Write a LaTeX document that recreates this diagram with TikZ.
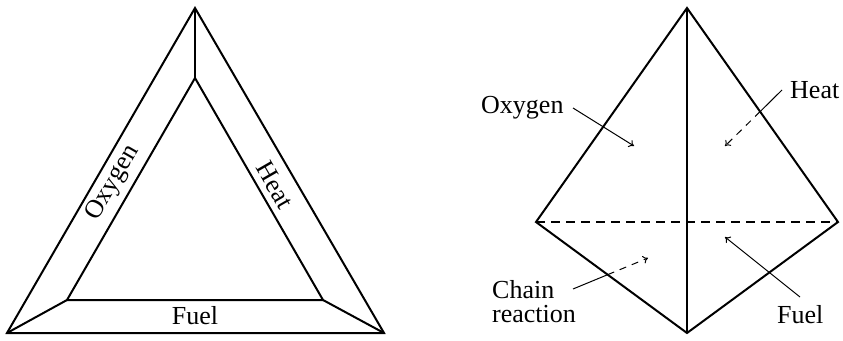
\documentclass[tikz,border=0pt]{standalone}
\usepackage{fontspec}
\setmainfont{Liberation Serif}
\usetikzlibrary{arrows.meta}
\begin{document}
\begin{tikzpicture}[x=1pt,y=-1pt,
  edge/.style={line width=2pt,line join=miter},
  hidden/.style={line width=2pt,dash pattern=on 9pt off 6pt},
  pointer/.style={line width=1pt,-{To[length=5pt,width=8pt]}},
  label/.style={font=\fontsize{26}{24}\selectfont,inner sep=0pt},
  every node/.style={inner sep=0pt}]
\useasboundingbox (0,0) rectangle (843,340);
% ---- left: fire triangle ----
\coordinate (oa) at (195,8);
\coordinate (ol) at (7,333);
\coordinate (or) at (384,333);
\coordinate (ia) at (195,78);
\coordinate (il) at (67,300);
\coordinate (ir) at (323,300);
\draw[edge] (oa) -- (ol) -- (or) -- cycle;
\draw[edge] (ia) -- (il) -- (ir) -- cycle;
\draw[edge] (oa) -- (ia);
\draw[edge] (ol) -- (il);
\draw[edge] (or) -- (ir);
\node[label,rotate=60] (toxy) at (113,183) {Oxygen};
\node[label,rotate=-60] (theat) at (275,185) {Heat};
\node[label] (tfuel) at (195,316) {Fuel};
% ---- right: fire tetrahedron ----
\coordinate (ta) at (687,8);
\coordinate (tl) at (536,222);
\coordinate (tr) at (838,222);
\coordinate (tb) at (687,333);
\draw[edge] (ta) -- (tl) -- (tb) -- (tr) -- cycle;
\draw[edge] (ta) -- (tb);
\draw[hidden] (tl) -- (tr);
\node[label,anchor=base west] (roxy) at (481,113) {Oxygen};
\node[label,anchor=base west] (rheat) at (790,98) {Heat};
\node[label,anchor=base west] (rfuel) at (777,323) {Fuel};
\node[label,anchor=base west,align=left] (rchain) at (492,322) {Chain\\reaction};
% pointer ends
\coordinate (poxs) at (573,108);
\coordinate (poxe) at (634,146);
\coordinate (phs) at (782,90);
\coordinate (phe) at (725,146);
\coordinate (pfs) at (800,297);
\coordinate (pfe) at (725,237);
\coordinate (pcs) at (573,289);
\coordinate (pce) at (648,258);
\coordinate (phx) at (intersection of phs--phe and ta--tr);
\coordinate (pcx) at (intersection of pcs--pce and tl--tb);
\draw[pointer] (poxs) -- (poxe);
\draw[pointer] (pfs) -- (pfe);
\draw[line width=1pt] (phs) -- (phx);
\draw[pointer,dash pattern=on 7pt off 6pt] (phx) -- (phe);
\draw[line width=1pt] (pcs) -- (pcx);
\draw[pointer,dash pattern=on 7pt off 6pt] (pcx) -- (pce);
\end{tikzpicture}
\end{document}
